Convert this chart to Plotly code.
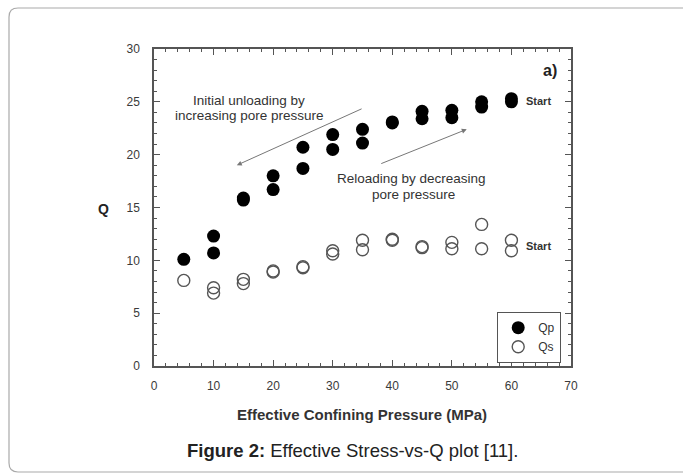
import plotly.graph_objects as go

# ---- data ----
pressure = [5, 10, 10, 15, 15, 20, 20, 25, 25, 30, 30, 35, 35, 40, 40, 45, 45, 50, 50, 55, 55, 60, 60]
qp = [10.1, 12.3, 10.7, 15.9, 15.7, 18.0, 16.7, 20.7, 18.7, 21.9, 20.5, 22.4, 21.1, 23.1, 23.0,
      24.1, 23.4, 24.2, 23.5, 25.0, 24.5, 25.3, 25.0]
qs = [8.1, 7.4, 6.9, 8.2, 7.8, 9.0, 8.9, 9.4, 9.3, 10.9, 10.6, 11.9, 11.0, 12.0, 11.9,
      11.3, 11.2, 11.7, 11.1, 13.4, 11.1, 11.9, 10.9]
series_names = ["Qp", "Qs"]
x_ticks = [0, 10, 20, 30, 40, 50, 60, 70]
y_ticks = [0, 5, 10, 15, 20, 25, 30]
x_title = "Effective Confining Pressure (MPa)"
y_title = "Q"
caption_bold = "Figure 2:"
caption_rest = " Effective Stress-vs-Q plot [11]."

W, H = 683, 474
L, R, T, B = 154, 571, 49, 366  # plot area in px


def px(xp):
    return (xp - L) / (R - L)


def py(yp):
    return (B - yp) / (B - T)


FONT = "Liberation Sans, Arial, sans-serif"

fig = go.Figure()
fig.add_trace(go.Scatter(
    x=pressure, y=qp, mode="markers", name=series_names[0],
    marker=dict(symbol="circle", size=13, color="black", line=dict(color="black", width=0)),
))
fig.add_trace(go.Scatter(
    x=pressure, y=qs, mode="markers", name=series_names[1],
    marker=dict(symbol="circle-open", size=12, color="#555555", line=dict(width=1.4)),
))

axis_common = dict(
    showline=True, linecolor="#555555", linewidth=1.5, mirror="ticks",
    ticks="inside", ticklen=6, tickcolor="#555555", tickwidth=1.2,
    showgrid=False, zeroline=False,
    tickfont=dict(family=FONT, size=12, color="#3a3a3a"),
)

fig.update_layout(
    width=W, height=H,
    margin=dict(l=L, r=W - R, t=T, b=H - B),
    paper_bgcolor="white", plot_bgcolor="white",
    showlegend=True,
    legend=dict(
        x=px(561), y=py(312), xanchor="right", yanchor="top",
        bordercolor="#555555", borderwidth=1.2, bgcolor="white",
        font=dict(family=FONT, size=12, color="#333333"),
        itemwidth=30, tracegroupgap=0,
    ),
    xaxis=dict(range=[0, 70], tickvals=x_ticks, ticklabelstandoff=8,
               minor=dict(dtick=2, ticks="inside", ticklen=3, tickcolor="#555555"),
               **axis_common),
    yaxis=dict(range=[0, 30], tickvals=y_ticks, ticklabelstandoff=10,
               minor=dict(dtick=1, ticks="inside", ticklen=3, tickcolor="#555555"),
               **axis_common),
)


def ann_paper(text, xp, yp, size, color="#333333"):
    fig.add_annotation(text=text, xref="paper", yref="paper", x=px(xp), y=py(yp),
                       xanchor="center", yanchor="middle", showarrow=False,
                       font=dict(family=FONT, size=size, color=color))


def ann_data(text, x, y, size, color="#333333"):
    fig.add_annotation(text=text, x=x, y=y, xanchor="center", yanchor="middle",
                       showarrow=False, font=dict(family=FONT, size=size, color=color))


# axis titles
ann_paper("<b>" + x_title + "</b>", 362, 414, 15)
ann_paper("<b>" + y_title + "</b>", 103, 209, 14, "#222222")
# caption
ann_paper("<b>" + caption_bold + "</b>" + caption_rest, 352, 450, 18.5, "#222222")

# in-plot annotations
ann_data("Initial unloading by", 15.95, 25.15, 13.5)
ann_data("increasing pore pressure", 15.95, 23.7, 13.5)
ann_data("Reloading by decreasing", 43.3, 17.75, 13.5)
ann_data("pore pressure", 43.6, 16.25, 13.5)
fig.add_annotation(x=13.9, y=19.0, ax=35.1, ay=24.4, axref="x", ayref="y",
                   showarrow=True, arrowhead=2, arrowsize=1, arrowwidth=1,
                   arrowcolor="#777777", text="")
fig.add_annotation(x=52.5, y=22.4, ax=37.9, ay=19.1, axref="x", ayref="y",
                   showarrow=True, arrowhead=2, arrowsize=1, arrowwidth=1,
                   arrowcolor="#777777", text="")
ann_data("<b>a)</b>", 66.4, 28.0, 16, "#222222")
ann_data("<b>Start</b>", 64.5, 25.1, 11)
ann_data("<b>Start</b>", 64.5, 11.35, 11)

# rounded card border
x0, y0, x1, y1, r = 9, 8, 700, 472, 9
path = (f"M {px(x0)},{py(y0 + r)} "
        f"Q {px(x0)},{py(y0)} {px(x0 + r)},{py(y0)} "
        f"L {px(x1)},{py(y0)} L {px(x1)},{py(y1)} "
        f"L {px(x0 + r)},{py(y1)} "
        f"Q {px(x0)},{py(y1)} {px(x0)},{py(y1 - r)} Z")
fig.add_shape(type="path", path=path, xref="paper", yref="paper",
              line=dict(color="#aaaaaa", width=1.2), layer="below")

fig.write_html("out.html")
